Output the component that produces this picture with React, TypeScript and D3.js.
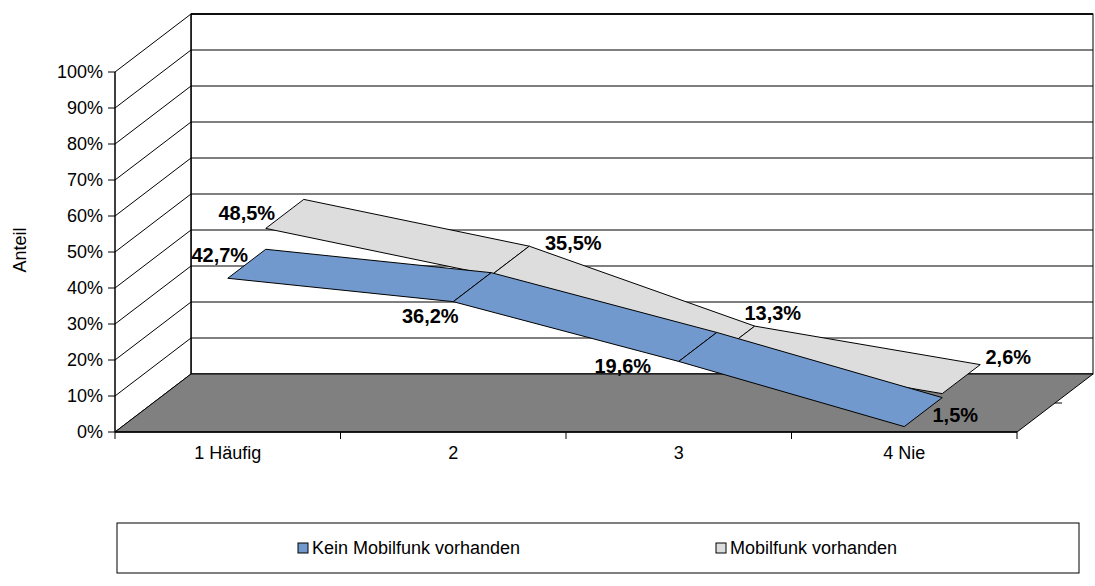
import React from 'react';
import * as d3 from 'd3';

const categories: string[] = ['1 Häufig', '2', '3', '4 Nie'];
const seriesNames: string[] = ['Kein Mobilfunk vorhanden', 'Mobilfunk vorhanden'];
const keinMobilfunk: number[] = [42.7, 36.2, 19.6, 1.5];
const mobilfunk: number[] = [48.5, 35.5, 13.3, 2.6];
const yTicks: number[] = [0, 10, 20, 30, 40, 50, 60, 70, 80, 90, 100];
const seriesColors: string[] = ['#7199CD', '#DDDDDD'];

// label offsets (layout only) relative to series mid-depth point
const labelOffsets: [number, number][][] = [
  [[-27, -9], [-42, 29], [-75, 19], [32, 3]],
  [[-38, -1], [63, -18], [37, -28], [47, -22]],
];

const W = 1095;
const H = 586;
const FONT = '"Liberation Sans", Arial, sans-serif';

export default function App() {
  const left = 115;
  const right = 1017;
  const bottom = 432;
  const top = 72;
  const DX = 76;
  const DY = -58;

  const x = d3.scaleBand<string>().domain(categories).range([left, right]).padding(0);
  const y = d3.scaleLinear().domain([0, 100]).range([bottom, top]);
  const depth = (d: number) => [DX * d, DY * d];
  const cx = (c: string) => (x(c) as number) + x.bandwidth() / 2;

  const pt = (i: number, v: number, d: number): [number, number] => {
    const [ox, oy] = depth(d);
    return [cx(categories[i]) + ox, y(v) + oy];
  };

  const series = [keinMobilfunk, mobilfunk];
  const line = d3.line<[number, number]>();

  const fmt = (v: number) => v.toFixed(1).replace('.', ',') + '%';

  const fsAxis = 18;
  const fsLabel = 20;

  const backX0 = left + DX;
  const backX1 = right + DX;

  // draw order: back series first
  const ribbons: JSX.Element[] = [];
  for (let s = series.length - 1; s >= 0; s--) {
    const vals = series[s];
    const d0 = s * 0.5;
    const d1 = (s + 1) * 0.5;
    for (let i = 0; i < vals.length - 1; i++) {
      const poly: [number, number][] = [
        pt(i, vals[i], d0),
        pt(i + 1, vals[i + 1], d0),
        pt(i + 1, vals[i + 1], d1),
        pt(i, vals[i], d1),
        pt(i, vals[i], d0),
      ];
      ribbons.push(
        <path key={`r${s}-${i}`} d={line(poly) as string} fill={seriesColors[s]} stroke="#000" strokeWidth={1} strokeLinejoin="round" />
      );
    }
  }

  const labels: JSX.Element[] = [];
  series.forEach((vals, s) => {
    const dm = s * 0.5 + 0.25;
    vals.forEach((v, i) => {
      const [px, py] = pt(i, v, dm);
      const [ox, oy] = labelOffsets[s][i];
      labels.push(
        <text key={`l${s}-${i}`} x={px + ox} y={py + oy} textAnchor="middle" dominantBaseline="central"
          fontFamily={FONT} fontWeight="bold" fontSize={fsLabel} fill="#000">{fmt(v)}</text>
      );
    });
  });

  const legendY = 523;
  const legendH = 50;

  return (
    <svg width={W} height={H} style={{ position: 'absolute', left: 0, top: 0, background: '#fff' }}>
      {/* back wall */}
      <rect x={backX0} y={top + DY} width={backX1 - backX0} height={bottom - top} fill="#fff" stroke="#000" strokeWidth={1} />
      {/* side wall */}
      <path d={line([[left, bottom], [left, top], [backX0, top + DY], [backX0, bottom + DY], [left, bottom]]) as string} fill="#fff" stroke="none" />
      {/* gridlines */}
      {yTicks.map((t) => (
        <g key={`g${t}`}>
          <line x1={left} y1={y(t)} x2={backX0} y2={y(t) + DY} stroke="#000" strokeWidth={1} />
          <line x1={backX0} y1={y(t) + DY} x2={backX1} y2={y(t) + DY} stroke="#000" strokeWidth={1} />
        </g>
      ))}
      <line x1={backX0} y1={top + DY} x2={backX0} y2={bottom + DY} stroke="#000" strokeWidth={1.5} />
      <line x1={backX0} y1={top + DY} x2={backX1} y2={top + DY} stroke="#000" strokeWidth={1.5} />
      {/* floor */}
      <path d={line([[left, bottom], [right, bottom], [backX1, bottom + DY], [backX0, bottom + DY], [left, bottom]]) as string}
        fill="#808080" stroke="#000" strokeWidth={1} />
      {/* value axis */}
      <line x1={left} y1={top} x2={left} y2={bottom} stroke="#000" strokeWidth={1.5} />
      {yTicks.map((t) => (
        <g key={`t${t}`}>
          <line x1={left - 7} y1={y(t)} x2={left} y2={y(t)} stroke="#000" strokeWidth={1} />
          <text x={left - 12} y={y(t)} textAnchor="end" dominantBaseline="central" fontFamily={FONT} fontSize={fsAxis} fill="#000">{t}%</text>
        </g>
      ))}
      {/* category axis */}
      <line x1={left} y1={bottom} x2={right} y2={bottom} stroke="#000" strokeWidth={1.5} />
      {d3.range(categories.length + 1).map((k) => {
        const xx = left + k * x.bandwidth();
        return <line key={`ct${k}`} x1={xx} y1={bottom} x2={xx} y2={bottom + 7} stroke="#000" strokeWidth={1} />;
      })}
      {categories.map((c) => (
        <text key={c} x={cx(c)} y={bottom + 21} textAnchor="middle" dominantBaseline="central" fontFamily={FONT} fontSize={fsAxis} fill="#000">{c}</text>
      ))}
      {/* depth axis tick */}
      <line x1={right + DX / 2} y1={bottom + DY / 2} x2={right + DX / 2 + 7} y2={bottom + DY / 2} stroke="#000" strokeWidth={1} />
      {/* ribbons */}
      {ribbons}
      {labels}
      {/* axis title */}
      <text transform={`translate(20,250) rotate(-90)`} textAnchor="middle" dominantBaseline="central" fontFamily={FONT} fontSize={fsAxis} fill="#000">Anteil</text>
      {/* legend */}
      <rect x={117} y={legendY} width={962} height={legendH} fill="#fff" stroke="#000" strokeWidth={1} />
      {seriesNames.map((n, i) => {
        const lx = i === 0 ? 298 : 716;
        return (
          <g key={n}>
            <rect x={lx} y={legendY + legendH / 2 - 5} width={10} height={10} fill={seriesColors[i]} stroke="#000" strokeWidth={1} />
            <text x={lx + 14} y={legendY + legendH / 2} dominantBaseline="central" fontFamily={FONT} fontSize={fsAxis} fill="#000">{n}</text>
          </g>
        );
      })}
    </svg>
  );
}
